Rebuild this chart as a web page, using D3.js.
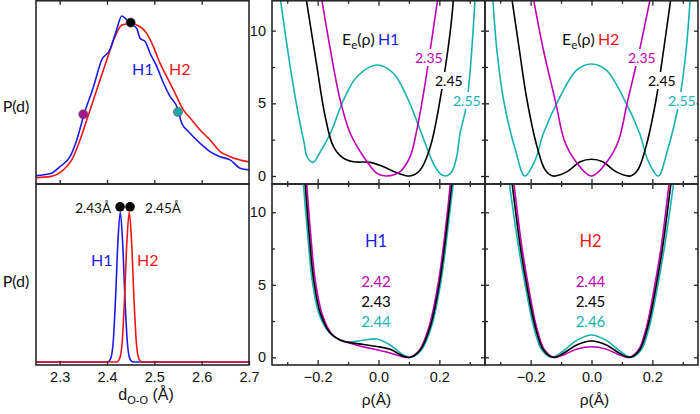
<!DOCTYPE html>
<html><head><meta charset="utf-8">
<script src="https://cdn.jsdelivr.net/npm/d3@7"></script>
<style>body{margin:0;background:#fff}svg{display:block}</style>
</head><body><svg id="c" width="700" height="414"></svg>
<script>
// ---------------- DATA ----------------
// Left panels: O-O distance distributions P(d)
const pH1Broad = [[2.25,0.026],[2.2794,0.037],[2.3006,0.081],[2.3219,0.142],[2.3361,0.244],[2.3513,0.398],[2.3715,0.569],[2.3887,0.732],[2.406,0.793],[2.4201,0.915],[2.4313,1.0],[2.4384,0.986],[2.4485,0.955],[2.4627,0.925],[2.4698,0.864],[2.4809,0.843],[2.491,0.773],[2.5052,0.691],[2.5194,0.59],[2.5335,0.508],[2.5477,0.447],[2.5579,0.346],[2.572,0.295],[2.5963,0.224],[2.6176,0.173],[2.6389,0.142],[2.6601,0.122],[2.6814,0.071],[2.70,0.061]];
const pH2Broad = [[2.25,0.014],[2.2796,0.02],[2.3077,0.061],[2.3255,0.122],[2.343,0.244],[2.3572,0.366],[2.3783,0.549],[2.3995,0.732],[2.417,0.874],[2.4312,0.945],[2.4487,0.955],[2.4699,0.935],[2.484,0.894],[2.498,0.813],[2.5122,0.711],[2.5297,0.61],[2.5439,0.528],[2.5614,0.427],[2.5792,0.366],[2.5967,0.305],[2.6179,0.244],[2.639,0.173],[2.6601,0.142],[2.6813,0.122],[2.70,0.11]];
const dotsTopD = [2.35, 2.45, 2.55];
const dotsTopP = [0.40, 0.96, 0.415];
const pH1Narrow = [[2.25,0],[2.400,0],[2.404,0.004],[2.409,0.035],[2.413,0.13],[2.418,0.42],[2.423,0.80],[2.428,1.0],[2.433,0.80],[2.438,0.42],[2.443,0.13],[2.447,0.035],[2.452,0.004],[2.456,0],[2.70,0]];
const pH2Narrow = [[2.25,0],[2.419,0],[2.423,0.004],[2.428,0.035],[2.432,0.13],[2.437,0.42],[2.442,0.80],[2.447,1.0],[2.452,0.80],[2.457,0.42],[2.462,0.13],[2.466,0.035],[2.471,0.004],[2.476,0],[2.70,0]];
const dotsBotD = [2.4276, 2.4487];
const dotsBotP = [1.035, 1.035];
const dotLabels = ["2.43Å", "2.45Å"];

// Energy profiles E_e(rho): [rho (Å), E]
const eH1_235 = [[-0.186,12.1],[-0.158,8.67],[-0.126,5.23],[-0.093,2.94],[-0.049,1.33],[-0.005,0.18],[0.027,0],[0.071,0.3],[0.104,1.33],[0.126,3.17],[0.148,5.69],[0.170,8.67],[0.194,12.1]];
const eH1_245 = [[-0.237,12.1],[-0.204,7.75],[-0.175,4.08],[-0.148,2.02],[-0.115,1.22],[-0.082,0.98],[-0.027,0.94],[0.016,0.64],[0.060,0.23],[0.104,0],[0.137,0.41],[0.170,2.0],[0.202,5.2],[0.235,9.8],[0.246,12.1]];
const eH1_255 = [[-0.322,12.1],[-0.29,7.5],[-0.262,4.07],[-0.244,2.24],[-0.235,1.33],[-0.215,0.94],[-0.191,1.67],[-0.158,2.94],[-0.115,5.23],[-0.071,6.83],[-0.005,7.64],[0.049,7.07],[0.093,5.46],[0.137,3.17],[0.180,0.87],[0.202,0.18],[0.219,0],[0.241,0.3],[0.257,1.33],[0.268,2.93],[0.29,5.0],[0.317,12.1]];
const eH2_235 = [[-0.19,12.1],[-0.158,8.67],[-0.117,5.0],[-0.09,2.5],[-0.055,1.1],[0,0],[0.055,1.1],[0.09,2.5],[0.117,5.0],[0.158,8.67],[0.192,12.1]];
const eH2_245 = [[-0.261,12.1],[-0.237,8.67],[-0.212,5.23],[-0.179,2.02],[-0.152,0.41],[-0.127,0],[-0.08,0.3],[-0.037,0.98],[0,1.15],[0.037,0.98],[0.08,0.3],[0.128,0],[0.152,0.41],[0.179,2.02],[0.212,5.23],[0.237,8.67],[0.26,12.1]];
const eH2_255 = [[-0.324,12.1],[-0.311,8.67],[-0.289,5.23],[-0.25,1.79],[-0.219,0],[-0.185,1.1],[-0.158,2.94],[-0.103,5.46],[-0.048,7.3],[0,7.71],[0.048,7.3],[0.103,5.46],[0.158,2.94],[0.185,1.1],[0.219,0],[0.25,1.79],[0.289,5.23],[0.311,8.67],[0.324,12.1]];
const eH1_242 = [[-0.236,12],[-0.223,8.5],[-0.208,5.33],[-0.186,3.03],[-0.154,1.6],[-0.124,1.15],[-0.098,1.0],[-0.049,0.72],[-0.005,0.52],[0.038,0.3],[0.082,0.03],[0.104,0],[0.135,0.5],[0.166,2.11],[0.198,5.33],[0.226,9.93],[0.236,12]];
const eH1_243 = [[-0.241,12],[-0.228,8.5],[-0.213,5.33],[-0.191,3.03],[-0.158,1.66],[-0.126,1.19],[-0.098,1.03],[-0.049,0.88],[-0.005,0.75],[0.038,0.55],[0.082,0.08],[0.104,0],[0.137,0.5],[0.170,2.11],[0.202,5.33],[0.230,9.93],[0.241,12]];
const eH1_244 = [[-0.247,12],[-0.233,8.5],[-0.218,5.33],[-0.196,3.03],[-0.162,1.72],[-0.128,1.22],[-0.098,1.05],[-0.049,1.18],[-0.005,1.26],[0.038,0.85],[0.082,0.17],[0.106,0],[0.141,0.5],[0.174,2.11],[0.206,5.33],[0.234,9.93],[0.246,12]];
const eH2_244 = [[-0.255,12],[-0.229,7.63],[-0.207,4.87],[-0.181,2.11],[-0.154,0.5],[-0.124,0],[-0.088,0.2],[-0.047,0.58],[0,0.73],[0.047,0.58],[0.088,0.2],[0.124,0],[0.154,0.5],[0.181,2.11],[0.207,4.87],[0.229,7.63],[0.255,12]];
const eH2_245b = [[-0.261,12],[-0.234,7.63],[-0.212,4.87],[-0.185,2.11],[-0.158,0.5],[-0.127,0],[-0.092,0.28],[-0.049,0.85],[0,1.12],[0.049,0.85],[0.092,0.28],[0.127,0],[0.158,0.5],[0.185,2.11],[0.212,4.87],[0.234,7.63],[0.261,12]];
const eH2_246 = [[-0.27,12],[-0.24,7.63],[-0.217,4.87],[-0.19,2.11],[-0.163,0.5],[-0.131,0],[-0.095,0.4],[-0.05,1.15],[0,1.54],[0.05,1.15],[0.095,0.4],[0.131,0],[0.163,0.5],[0.19,2.11],[0.217,4.87],[0.24,7.63],[0.27,12]];

const dTicks = [2.3, 2.4, 2.5, 2.6, 2.7];
const rhoMajor = [-0.2, 0, 0.2];
const rhoMinor = [-0.3, -0.1, 0.1, 0.3];
const eMajor = [0, 5, 10];
const eMinor = [2.5, 7.5];
const topLabels = ["2.35", "2.45", "2.55"];
const botH1Labels = ["2.42", "2.43", "2.44"];
const botH2Labels = ["2.44", "2.45", "2.46"];

// ---------------- STYLE / LAYOUT ----------------
const BLUE = "#1c1ce6", RED = "#f01515", MAG = "#c000b4", CYN = "#17b1b1", BLK = "#000";
const AX = "#262626";
const TXT = "Lato, 'Open Sans', sans-serif";
const TICKF = "'Liberation Sans', Arial, sans-serif";

const svg = d3.select("#c");
const defs = svg.append("defs");

const xD  = d3.scaleLinear().domain([2.25, 2.70]).range([36, 249]);
const yPt = d3.scaleLinear().domain([-0.025, 1.098]).range([184, 0]);
const yPb = d3.scaleLinear().domain([-0.02, 1.187]).range([365, 184]);
const xRm = d3.scaleLinear().domain([-0.35, 0.35]).range([272, 485]);
const xRr = d3.scaleLinear().domain([-0.35, 0.35]).range([485, 698]);
const yEt = d3.scaleLinear().domain([-0.55, 12.11]).range([184, 0]);
const yEb = d3.scaleLinear().domain([-0.53, 11.95]).range([365, 184]);

function clip(id, xs, ys) {
  const [x0, x1] = xs.range(); const r = ys.range();
  const y0 = Math.min(r[0], r[1]), y1 = Math.max(r[0], r[1]);
  defs.append("clipPath").attr("id", id).append("rect")
    .attr("x", x0).attr("y", y0).attr("width", x1 - x0).attr("height", y1 - y0);
  return svg.append("g").attr("clip-path", `url(#${id})`);
}
function curve(g, data, xs, ys, color, smooth) {
  const cv = smooth ? d3.curveCatmullRom.alpha(0.5) : d3.curveMonotoneX;
  g.append("path").datum(data)
    .attr("d", d3.line().x(d => xs(d[0])).y(d => ys(d[1])).curve(cv))
    .attr("fill", "none").attr("stroke", color).attr("stroke-width", 1.6)
    .attr("stroke-linejoin", "round");
}
function frame(xs, ys) {
  const [x0, x1] = xs.range(); const r = ys.range();
  const y0 = Math.min(r[0], r[1]), y1 = Math.max(r[0], r[1]);
  svg.append("rect").attr("x", x0).attr("y", Math.max(y0, 0.75)).attr("width", x1 - x0)
    .attr("height", y1 - Math.max(y0, 0.75)).attr("fill", "none").attr("stroke", AX).attr("stroke-width", 1.6);
}
function axisG(ax, tx, ty) {
  const g = svg.append("g").attr("transform", `translate(${tx},${ty})`).attr("color", AX).call(ax);
  g.select(".domain").remove();
  g.selectAll("line").attr("stroke-width", 1.3);
  g.selectAll("text").attr("font-family", TICKF).attr("font-size", 14.5).attr("fill", "#111");
  return g;
}
function txt(x, y, s, color, size, anchor, family) {
  return svg.append("text").attr("x", x).attr("y", y).text(s).attr("fill", color)
    .attr("font-size", size).attr("font-family", family || TXT).attr("text-anchor", anchor || "middle");
}
function boxedTxt(x, y, s, color, size) {
  const t = txt(x, y, s, color, size, "start");
  const b = t.node().getBBox();
  svg.insert("rect", () => t.node()).attr("x", b.x - 1).attr("y", b.y).attr("width", b.width + 2)
    .attr("height", b.height).attr("fill", "#fff");
  return t;
}

// ---------------- TOP-LEFT ----------------
{
  const g = clip("cTL", xD, yPt);
  curve(g, pH2Broad, xD, yPt, RED, false);
  curve(g, pH1Broad, xD, yPt, BLUE, false);
  const dc = ["#a3168f", "#000", "#22a6a6"];
  dotsTopD.forEach((d, i) => {
    svg.append("circle").attr("cx", xD(d)).attr("cy", yPt(dotsTopP[i])).attr("r", 4.6)
      .attr("fill", dc[i]).attr("stroke", "#555").attr("stroke-width", 0.6);
  });
  frame(xD, yPt);
  axisG(d3.axisBottom(xD).tickValues(dTicks.slice(0, 4)).tickSize(-4).tickFormat(""), 0, 184);
  axisG(d3.axisTop(xD).tickValues(dTicks.slice(0, 4)).tickSize(-4).tickFormat(""), 0, 0.75);
  txt(16, 112, "P(d)", "#111", 16);
  txt(132, 75, "H1", BLUE, 16, "start");
  txt(169, 75, "H2", RED, 16, "start");
}
// ---------------- BOTTOM-LEFT ----------------
{
  const g = clip("cBL", xD, yPb);
  curve(g, pH1Narrow, xD, yPb, BLUE, false);
  curve(g, pH2Narrow, xD, yPb, RED, false);
  dotsBotD.forEach((d, i) => {
    svg.append("circle").attr("cx", xD(d)).attr("cy", yPb(dotsBotP[i])).attr("r", 4.8).attr("fill", "#000");
  });
  txt(xD(dotsBotD[0]) - 9, 213, dotLabels[0], "#111", 13.5, "end");
  txt(xD(dotsBotD[1]) + 15, 213, dotLabels[1], "#111", 13.5, "start");
  txt(91, 266, "H1", BLUE, 16, "start");
  txt(137, 266, "H2", RED, 16, "start");
  frame(xD, yPb);
  axisG(d3.axisBottom(xD).tickValues(dTicks).tickSize(-4).tickPadding(7).tickFormat(d3.format(".1f")), 0, 365);
  txt(16, 287, "P(d)", "#111", 16);
  const t = svg.append("text").attr("x", 146).attr("y", 400).attr("text-anchor", "middle")
    .attr("font-family", TICKF).attr("font-size", 16).attr("fill", "#111");
  t.append("tspan").text("d");
  t.append("tspan").attr("dy", 4).attr("font-size", 11).text("O-O");
  t.append("tspan").attr("dy", -4).text(" (Å)");
}
// ---------------- ENERGY PANELS ----------------
function energyPanel(id, xs, ys, curves, leftLabels) {
  const g = clip(id, xs, ys);
  curves.forEach(c => curve(g, c[0], xs, ys, c[1], true));
  frame(xs, ys);
  const r = ys.range(); const yTop = Math.min(r[0], r[1]), yBot = Math.max(r[0], r[1]);
  const [x0, x1] = xs.range();
  axisG(d3.axisBottom(xs).tickValues(rhoMajor).tickSize(-5).tickFormat(""), 0, yBot);
  axisG(d3.axisBottom(xs).tickValues(rhoMinor).tickSize(-3).tickFormat(""), 0, yBot);
  axisG(d3.axisTop(xs).tickValues(rhoMajor).tickSize(-5).tickFormat(""), 0, Math.max(yTop, 0.75));
  axisG(d3.axisTop(xs).tickValues(rhoMinor).tickSize(-3).tickFormat(""), 0, Math.max(yTop, 0.75));
  axisG(d3.axisLeft(ys).tickValues(eMajor).tickSize(-4).tickPadding(6).tickFormat(leftLabels ? d3.format("d") : ""), x0, 0);
  axisG(d3.axisLeft(ys).tickValues(eMinor).tickSize(-3).tickFormat(""), x0, 0);
  axisG(d3.axisRight(ys).tickValues(eMajor).tickSize(-4).tickFormat(""), x1, 0);
  axisG(d3.axisRight(ys).tickValues(eMinor).tickSize(-3).tickFormat(""), x1, 0);
}
energyPanel("cTM", xRm, yEt, [[eH1_255, CYN], [eH1_245, BLK], [eH1_235, MAG]], true);
energyPanel("cTR", xRr, yEt, [[eH2_255, CYN], [eH2_245, BLK], [eH2_235, MAG]], false);
energyPanel("cBM", xRm, yEb, [[eH1_244, CYN], [eH1_242, MAG], [eH1_243, BLK]], true);
energyPanel("cBR", xRr, yEb, [[eH2_246, CYN], [eH2_244, MAG], [eH2_245b, BLK]], false);

// bottom rho axes labels
axisG(d3.axisBottom(xRm).tickValues(rhoMajor).tickSize(0).tickPadding(7).tickFormat(d3.format(".1f")), 0, 365);
axisG(d3.axisBottom(xRr).tickValues(rhoMajor).tickSize(0).tickPadding(7).tickFormat(d3.format(".1f")), 0, 365);
txt(xRm(0) - 2, 405, "ρ(Å)", "#111", 15.5, "middle", TICKF);
txt(xRr(0) + 3, 405, "ρ(Å)", "#111", 15.5, "middle", TICKF);

// top energy panel annotations
function eeLabel(x, y, tag, color) {
  const t = svg.append("text").attr("x", x).attr("y", y).attr("font-family", TXT).attr("font-size", 16).attr("fill", "#111");
  t.append("tspan").text("E");
  t.append("tspan").attr("dy", 4).attr("font-size", 11.5).text("e");
  t.append("tspan").attr("dy", -4).text("(ρ)");
  t.append("tspan").attr("dx", 3).attr("fill", color).text(tag);
}
eeLabel(342, 45, "H1", BLUE);
eeLabel(562, 45, "H2", RED);
const topCols = [MAG, BLK, CYN];
[[415, 63], [435, 86], [453, 106]].forEach((p, i) => boxedTxt(p[0], p[1], topLabels[i], topCols[i], 14));
[[628, 63], [648, 86], [668, 106]].forEach((p, i) => boxedTxt(p[0], p[1], topLabels[i], topCols[i], 14));

// bottom energy panel annotations
txt(376, 247, "H1", BLUE, 16.5);
txt(590.5, 247, "H2", RED, 16.5);
[287, 307, 327].forEach((y, i) => {
  txt(376, y, botH1Labels[i], topCols[i], 15);
  txt(590.5, y, botH2Labels[i], topCols[i], 15);
});
</script></body></html>
